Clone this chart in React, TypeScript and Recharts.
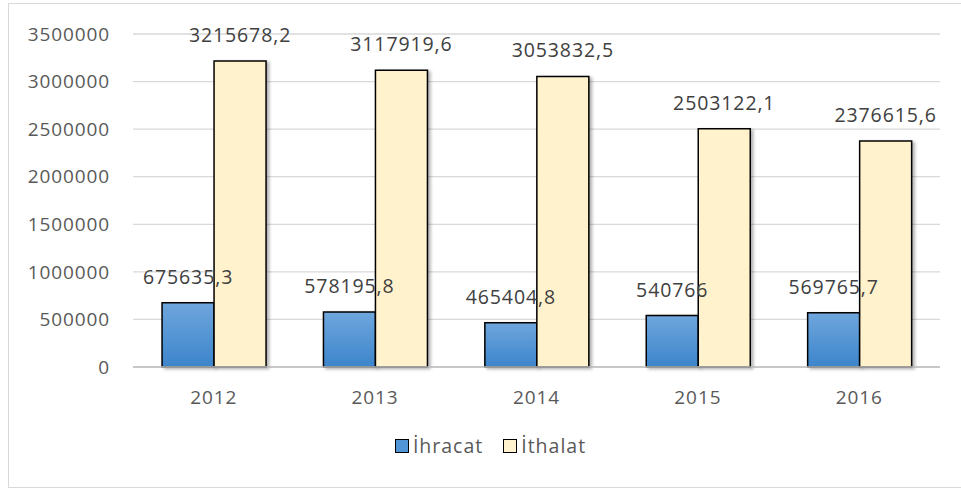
import { BarChart, Bar, XAxis, YAxis, CartesianGrid, Legend, LabelList } from 'recharts'

const categories = ['2012', '2013', '2014', '2015', '2016']
const ihracat = [675635.3, 578195.8, 465404.8, 540766, 569765.7]
const ithalat = [3215678.2, 3117919.6, 3053832.5, 2503122.1, 2376615.6]
const yTicks = [0, 500000, 1000000, 1500000, 2000000, 2500000, 3000000, 3500000]

const rows = categories.map((year, i) => ({
  year,
  ihracat: ihracat[i],
  ithalat: ithalat[i],
}))

const FONT = '"Open Sans", sans-serif'
const AXIS_TEXT = '#595959'
const LABEL_TEXT = '#404040'

const fmt = (v: unknown) => String(v).replace('.', ',')

function LegendBox() {
  const items = [
    { name: 'İhracat', fill: '#5295d6' },
    { name: 'İthalat', fill: '#fff2cc' },
  ]
  return (
    <div
      style={{
        display: 'flex',
        justifyContent: 'center',
        alignItems: 'center',
        gap: 20,
        paddingLeft: 32,
        fontFamily: FONT,
        fontSize: 19.5,
        letterSpacing: 1,
        color: AXIS_TEXT,
      }}
    >
      {items.map((it) => (
        <span key={it.name} style={{ display: 'flex', alignItems: 'center', gap: 4 }}>
          <span
            style={{
              display: 'inline-block',
              width: 12,
              height: 12,
              background: it.fill,
              border: '1.5px solid #000',
            }}
          />
          <span>{it.name}</span>
        </span>
      ))}
    </div>
  )
}

export default function App() {
  return (
    <div
      style={{
        position: 'absolute',
        left: 8,
        top: 3,
        width: 960,
        height: 483,
        border: '1px solid #d9d9d9',
        background: '#fff',
      }}
    >
      <BarChart
        width={960}
        height={483}
        data={rows}
        margin={{ top: 30, right: 29, left: 0, bottom: 15 }}
        barCategoryGap="18%"
        barGap={0}
      >
        <defs>
          <linearGradient id="blueGrad" x1="0" y1="0" x2="0" y2="1">
            <stop offset="0%" stopColor="#6fa6dd" />
            <stop offset="100%" stopColor="#3c85cb" />
          </linearGradient>
          <filter id="barShadow" x="-20%" y="-20%" width="150%" height="140%">
            <feDropShadow dx="2.5" dy="1.5" stdDeviation="1.5" floodColor="#000" floodOpacity="0.3" />
          </filter>
        </defs>
        <CartesianGrid vertical={false} stroke="#d9d9d9" strokeWidth={1.3} />
        <XAxis
          dataKey="year"
          height={65}
          tickSize={0}
          tickMargin={24}
          axisLine={{ stroke: '#bfbfbf', strokeWidth: 1.5 }}
          tickLine={false}
          tick={{ fontSize: 19, fill: AXIS_TEXT, fontFamily: FONT, letterSpacing: 0.9 }}
        />
        <YAxis
          width={124}
          domain={[0, 3500000]}
          ticks={yTicks}
          interval={0}
          tickSize={0}
          tickMargin={23}
          axisLine={false}
          tickLine={false}
          tick={{ fontSize: 19, fill: AXIS_TEXT, fontFamily: FONT, letterSpacing: 0.9 }}
        />
        <Legend verticalAlign="bottom" height={40} content={() => <LegendBox />} />
        <Bar
          dataKey="ihracat"
          name="İhracat"
          fill="url(#blueGrad)"
          stroke="#000"
          strokeWidth={1.5}
          filter="url(#barShadow)"
          isAnimationActive={false}
        >
          <LabelList
            dataKey="ihracat"
            position="top"
            offset={19}
            formatter={fmt}
            style={{ fontSize: 19.5, fontFamily: FONT, fill: LABEL_TEXT, letterSpacing: 0.9, stroke: 'none' }}
          />
        </Bar>
        <Bar
          dataKey="ithalat"
          name="İthalat"
          fill="#fff2cc"
          stroke="#000"
          strokeWidth={1.5}
          filter="url(#barShadow)"
          isAnimationActive={false}
        >
          <LabelList
            dataKey="ithalat"
            position="top"
            offset={19}
            formatter={fmt}
            style={{ fontSize: 19.5, fontFamily: FONT, fill: LABEL_TEXT, letterSpacing: 0.9, stroke: 'none' }}
          />
        </Bar>
      </BarChart>
    </div>
  )
}
